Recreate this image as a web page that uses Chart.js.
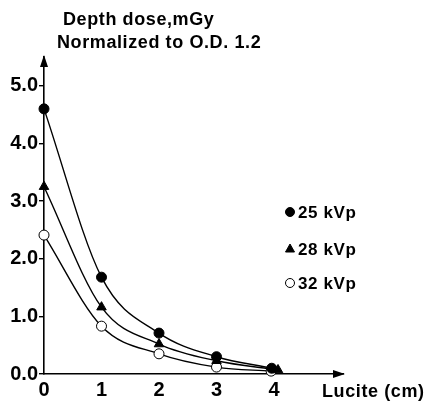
<!DOCTYPE html>
<html lang="en">
<head>
    <meta charset="UTF-8">
    <title>Depth dose vs Lucite thickness</title>
    <script src="https://cdn.jsdelivr.net/npm/chart.js"></script>
    <style>
        body { margin: 0; background: #fff; }
        canvas { display: block; }
    </style>
</head>
<body>
    <canvas id="doseChart" width="425" height="402"></canvas>
    <script>
        // values (depth dose in mGy vs cm of Lucite)
        const seriesNames = ['25 kVp', '28 kVp', '32 kVp'];
        const lucite25 = [0, 1, 2, 3, 3.96];
        const lucite28 = [0, 1, 2, 3, 4.07];
        const lucite32 = [0, 1, 2, 3, 3.95];
        const dose25 = [4.6, 1.68, 0.71, 0.3, 0.1];
        const dose28 = [3.25, 1.16, 0.52, 0.23, 0.07];
        const dose32 = [2.41, 0.83, 0.35, 0.12, 0.05];
        const xTicks = [0, 1, 2, 3, 4];
        const yTicks = [0, 1, 2, 3, 4, 5];

        const font = 'Liberation Sans, Arial, sans-serif';

        function toPoints(xs, ys) {
            return xs.map((x, i) => ({ x: x, y: ys[i] }));
        }

        // title, legend, axis arrows and x axis label
        const extras = {
            id: 'extras',
            afterDraw(chart) {
                const ctx = chart.ctx;
                const area = chart.chartArea;
                ctx.save();
                ctx.fillStyle = '#000';
                ctx.strokeStyle = '#000';

                // arrow heads
                ctx.beginPath();
                ctx.moveTo(area.left, area.top - 2);
                ctx.lineTo(area.left - 4, area.top + 10);
                ctx.lineTo(area.left + 4, area.top + 10);
                ctx.closePath();
                ctx.fill();
                ctx.beginPath();
                ctx.moveTo(area.right + 2, area.bottom);
                ctx.lineTo(area.right - 10, area.bottom - 4);
                ctx.lineTo(area.right - 10, area.bottom + 4);
                ctx.closePath();
                ctx.fill();

                // title
                ctx.font = 'bold 18px ' + font;
                ctx.textAlign = 'left';
                ctx.textBaseline = 'alphabetic';
                ctx.letterSpacing = '0.6px';
                ctx.fillText('Depth dose,mGy', 63, 25);
                ctx.fillText('Normalized to O.D. 1.2', 57, 48);

                // x axis label
                ctx.fillText('Lucite (cm)', 322, 397);

                // legend
                const rows = [218, 255, 289];
                ctx.font = 'bold 17px ' + font;
                chart.data.datasets.forEach((ds, i) => {
                    const y = rows[i];
                    const mx = 290, my = y - 6;
                    ctx.lineWidth = 1;
                    ctx.beginPath();
                    if (ds.pointStyle === 'triangle') {
                        ctx.moveTo(mx, my - 5);
                        ctx.lineTo(mx - 4.5, my + 3);
                        ctx.lineTo(mx + 4.5, my + 3);
                        ctx.closePath();
                    } else {
                        ctx.arc(mx, my, 4.5, 0, Math.PI * 2);
                    }
                    ctx.fillStyle = ds.pointBackgroundColor;
                    ctx.fill();
                    ctx.stroke();
                    ctx.fillStyle = '#000';
                    ctx.fillText(seriesNames[i], 298, y);
                });
                ctx.restore();
            }
        };

        function makeSet(name, xs, ys, style, fill) {
            return {
                label: name,
                data: toPoints(xs, ys),
                borderColor: '#000',
                borderWidth: 1.4,
                cubicInterpolationMode: 'monotone',
                pointStyle: style,
                pointRadius: style === 'triangle' ? 5.5 : 5,
                pointBackgroundColor: fill,
                pointBorderColor: '#000',
                pointBorderWidth: 1,
                clip: false
            };
        }

        new Chart(document.getElementById('doseChart').getContext('2d'), {
            type: 'line',
            data: {
                datasets: [
                    makeSet(seriesNames[0], lucite25, dose25, 'circle', '#000'),
                    makeSet(seriesNames[1], lucite28, dose28, 'triangle', '#000'),
                    makeSet(seriesNames[2], lucite32, dose32, 'circle', '#fff')
                ]
            },
            options: {
                responsive: false,
                animation: false,
                layout: { padding: { top: 57, right: 82, left: 0, bottom: 0 } },
                plugins: {
                    legend: { display: false },
                    tooltip: { enabled: false },
                    title: { display: false }
                },
                scales: {
                    x: {
                        type: 'linear',
                        min: 0,
                        max: 5.2,
                        afterBuildTicks(scale) {
                            scale.ticks = xTicks.map(v => ({ value: v }));
                        },
                        afterFit(scale) { scale.height = 28; },
                        grid: { display: false },
                        border: { color: '#000', width: 1.6 },
                        ticks: {
                            color: '#000',
                            padding: -4,
                            maxRotation: 0,
                            font: { family: font, size: 20, weight: 'bold' },
                            callback: v => String(v)
                        }
                    },
                    y: {
                        min: 0,
                        max: 5.5,
                        afterBuildTicks(scale) {
                            scale.ticks = yTicks.map(v => ({ value: v }));
                        },
                        afterFit(scale) { scale.width = 44; },
                        grid: {
                            drawOnChartArea: false,
                            tickLength: 5,
                            color: '#000',
                            lineWidth: 1.4
                        },
                        border: { color: '#000', width: 1.6 },
                        ticks: {
                            color: '#000',
                            padding: 1,
                            font: { family: font, size: 20, weight: 'bold' },
                            callback: v => v.toFixed(1)
                        }
                    }
                }
            },
            plugins: [extras]
        });
    </script>
</body>
</html>
